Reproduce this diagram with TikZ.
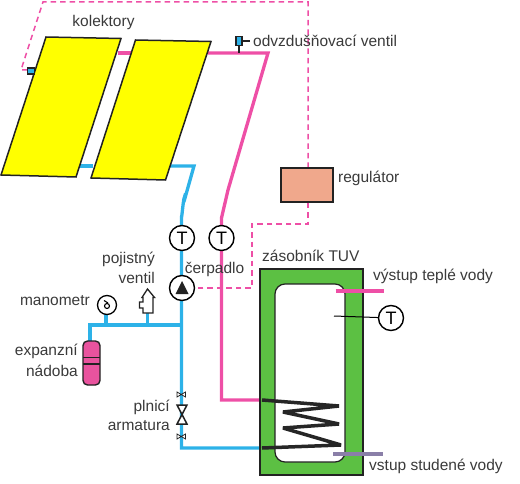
\documentclass[tikz,border=0pt]{standalone}
\usepackage{fontspec}
\setmainfont{Liberation Sans}
\definecolor{pinkp}{HTML}{EE4FA6}
\definecolor{bluep}{HTML}{2DB2E8}
\definecolor{dk}{HTML}{222222}
\definecolor{txt}{HTML}{3A3A3A}
\definecolor{greent}{HTML}{5CC043}
\definecolor{salm}{HTML}{F0A88C}
\definecolor{vess}{HTML}{E9539E}
\definecolor{coldp}{HTML}{8A7FA8}
\definecolor{yel}{HTML}{FFFF00}
\tikzset{
 hot/.style={draw=pinkp,line width=3.3pt,line join=miter},
 cold/.style={draw=bluep,line width=3.3pt,line join=miter},
 sig/.style={draw=pinkp,line width=1.5pt,dash pattern=on 5.5pt off 4pt},
 panel/.style={draw=dk,line width=1.5pt,fill=yel},
 tcirc/.style={circle,draw=black,line width=1.4pt,fill=white,minimum size=25pt,inner sep=0pt,font=\fontsize{18}{18}\selectfont},
 lab/.style={text=txt,font=\fontsize{15.5}{15.5}\selectfont,inner sep=0pt},
 vent/.style={draw=dk,line width=1.5pt,fill=bluep,minimum width=6pt,minimum height=9pt,inner sep=0pt},
 bowtie/.style={draw=dk,line width=.8pt,fill=white},
 bowtieb/.style={draw=dk,line width=1.5pt,fill=white},
}
\begin{document}
\begin{tikzpicture}[x=1pt,y=-1pt]
\useasboundingbox (0,0) rectangle (520,484);
% anchors
\coordinate (h1) at (118,53);\coordinate (h2) at (135,53);
\coordinate (h3) at (208,53);\coordinate (h4) at (268,53);
\coordinate (h5) at (228,190);\coordinate (h6) at (221.5,218);
\coordinate (h7) at (221.5,400);\coordinate (coilin) at (262,400);
\coordinate (c1) at (80,166);\coordinate (c2) at (93,166);
\coordinate (c3) at (170,166);\coordinate (c4) at (194,166);
\coordinate (c5) at (185,198);\coordinate (c6) at (181.5,216);
\coordinate (c7) at (181.5,448);\coordinate (coilout) at (262,448);
\coordinate (j) at (181.5,325);\coordinate (jl) at (90,325);
\coordinate (s1) at (252,288);\coordinate (s2) at (252,224);
\coordinate (s3) at (308,224);\coordinate (s4) at (308,2);
\coordinate (s5) at (43,2);\coordinate (s6) at (21,70);
% pipes
\draw[sig] (308,168) -- (s4) -- (s5) -- (s6) -- (29,70);
\draw[hot] (h1) -- (h2);
\draw[hot] (h3) -- (h4) -- (h5) -- (h6) -- (h7) -- (coilin);
\draw[cold] (c1) -- (c2);
\draw[cold] (c3) -- (c4) -- (c5) to[out=100,in=-90] (c6) -- (c7) -- (coilout);
\draw[cold] (j) -- (jl) -- (90,342);
\draw[cold] (106,312) -- (106,325);
\draw[cold] (147.5,312) -- (147.5,325);
% collectors
\draw[panel] (46,37) -- (121,38.5) -- (76,177) -- (1,175) -- cycle;
\draw[panel] (135.5,40) -- (211,41.5) -- (165.5,180) -- (91,178) -- cycle;
% air vent and sensor
\node[vent] (av) at (239,41) {};
\coordinate (avr) at (250,41);\coordinate (avd) at (239,53);
\draw[dk,line width=1.3pt] (av) -- (avr);
\draw[dk,line width=1.3pt] (av) -- (avd);
\node[vent,minimum width=7pt,minimum height=6pt] (sens) at (31,71) {};
% regulator
\node[draw=dk,line width=1.5pt,fill=salm,minimum width=52pt,minimum height=34pt,inner sep=0pt] (reg) at (307,185) {};
\draw[sig] (reg.south -| s3) -- (s3) -- (s2) -- (s1) -- (195,288);
% tank
\node[draw=dk,line width=1.5pt,fill=greent,minimum width=103pt,minimum height=206pt,inner sep=0pt] (tank) at (311.5,372) {};
\node[draw=dk,line width=1.2pt,fill=white,rounded corners=10pt,minimum width=70pt,minimum height=178pt,inner sep=0pt] (inner) at (310,373) {};
\draw[pinkp,line width=3.3pt] (335.5,291) coordinate (o1) -- (384,291) coordinate (o2);
\draw[coldp,line width=3.3pt] (333,454) coordinate (i1) -- (383,454) coordinate (i2);
\draw[black!85,line width=3.5pt,line join=miter,miter limit=3] (coilin) -- (339,406) -- (283,412) -- (339,424) -- (283,428) -- (341,445) -- (coilout);
% thermometers, pump
\node[tcirc] (t1) at (182,238) {T};
\node[tcirc] (t2) at (221.5,238) {T};
\node[tcirc] (t3) at (391,318) {T};
\coordinate (tp) at (334,316);
\draw[black,line width=1pt] (tp) -- (t3);
\node[circle,draw=black,line width=1.4pt,fill=white,minimum size=25pt,inner sep=0pt] (pump) at (182,288) {};
\fill[dk] (175.5,294) -- (182,281) -- (188.5,294) -- cycle;
% manometer
\node[circle,draw=black,line width=1.3pt,fill=white,minimum size=19pt,inner sep=0pt] (man) at (107,305) {};
\draw[black,line width=1.1pt] (107,306) circle (2.5pt);
\draw[black,line width=1.1pt] (104,300.5) -- (108,303);
% safety valve
\draw[dk,line width=1.3pt,fill=white] (147.5,289) -- (142,297.5) -- (143,297.5) -- (143,302) -- (139.5,302) -- (139.5,308) -- (143,308) -- (143,313) -- (153,313) -- (153,297.5) -- (154.5,297.5) -- cycle;
% vessel
\node[draw=dk,line width=1.4pt,fill=vess,rounded corners=4.5pt,minimum width=17pt,minimum height=44pt,inner sep=0pt] (exp) at (91.5,363) {};
\draw[dk,line width=1.1pt] (83,357.5) -- (100,357.5) (83,364) -- (100,364);
% valves
\draw[bowtie] (177,392) -- (185.5,397) -- (185.5,392) -- (177,397) -- cycle;
\draw[bowtie] (177,434) -- (185.5,439) -- (185.5,434) -- (177,439) -- cycle;
\draw[bowtieb] (177,405) -- (187,405) -- (177,424) -- (187,424) -- cycle;
% labels
\node[lab] (l1) at (103.5,22) {kolektory};
\node[lab,anchor=west] (l2) at (253,41) {odvzdušňovací ventil};
\node[lab,anchor=west] (l3) at (338,178) {regulátor};
\node[lab,anchor=west] (l4) at (262,256) {zásobník TUV};
\node[lab,anchor=west] (l5) at (373,276) {výstup teplé vody};
\node[lab,anchor=west] (l6) at (369,466) {vstup studené vody};
\node[lab] (l7) at (214.5,269) {čerpadlo};
\node[lab,anchor=east] (l8) at (155,259) {pojistný};
\node[lab,anchor=east] (l9) at (155,278) {ventil};
\node[lab,anchor=east] (l10) at (90,301) {manometr};
\node[lab,anchor=east] (l11) at (78,351) {expanzní};
\node[lab,anchor=east] (l12) at (78,371) {nádoba};
\node[lab,anchor=east] (l13) at (170,407) {plnicí};
\node[lab,anchor=east] (l14) at (170,426) {armatura};
\end{tikzpicture}
\end{document}
